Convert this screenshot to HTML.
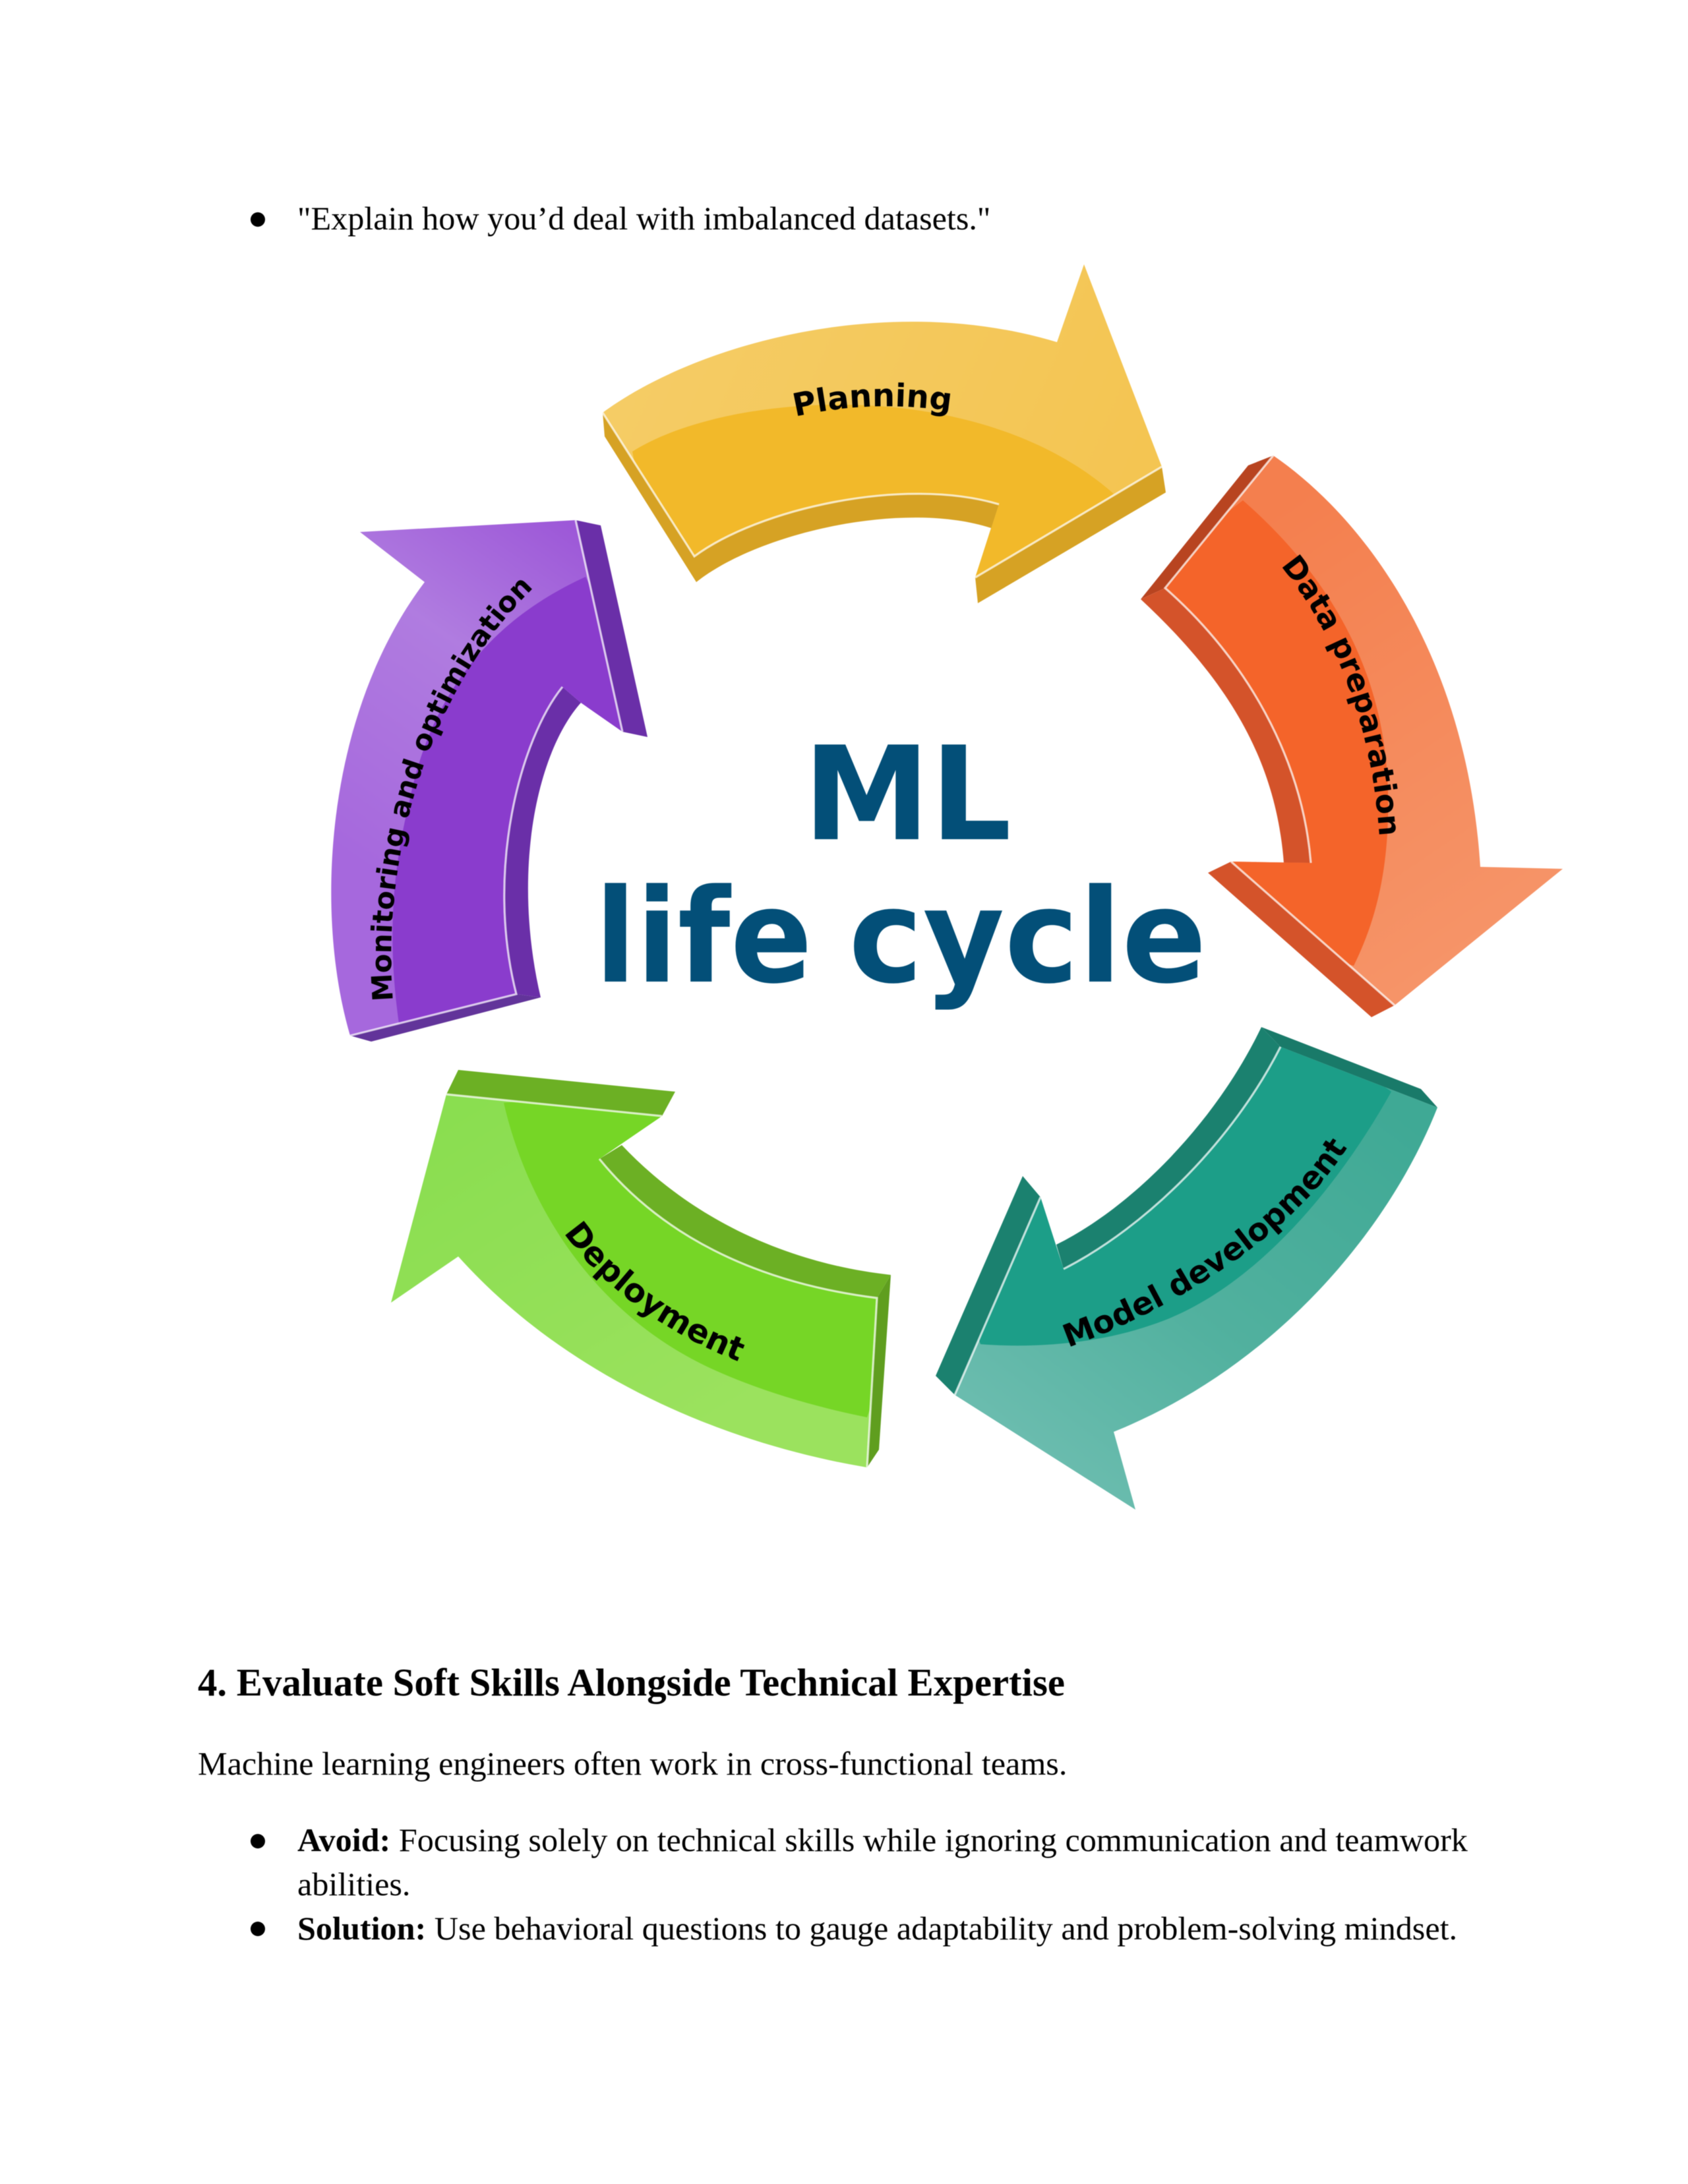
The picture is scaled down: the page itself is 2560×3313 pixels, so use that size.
<!DOCTYPE html>
<html lang="en">
<head>
<meta charset="utf-8">
<title>ML life cycle</title>
<style>
html,body{margin:0;padding:0;background:#fff;width:2560px;height:3313px;overflow:hidden}
svg{display:block;position:absolute;left:0;top:0;filter:blur(.6px)}
.t{font-family:"Liberation Serif",serif;font-size:50.2px;fill:#000}
.h{font-family:"Liberation Serif",serif;font-size:58.8px;font-weight:700;fill:#000}
.b{font-weight:700}
.l{font-family:"DejaVu Sans",sans-serif;font-weight:700;font-size:48px;fill:#000}
.c{font-family:"DejaVu Sans",sans-serif;font-weight:700;font-size:197px;fill:#034f78}
.e{fill:none;stroke:#fff;stroke-opacity:.72;stroke-width:3.2}
</style>
</head>
<body>
<svg xmlns="http://www.w3.org/2000/svg" width="2560" height="3313" viewBox="0 0 2560 3313">
<defs>
<linearGradient id="gy" gradientUnits="userSpaceOnUse" x1="1000" y1="500" x2="1700" y2="800"><stop offset="0" stop-color="#f5cc65"/><stop offset="1" stop-color="#f4c552"/></linearGradient>
<linearGradient id="go" gradientUnits="userSpaceOnUse" x1="1950" y1="750" x2="2350" y2="1350"><stop offset="0" stop-color="#f47f4e"/><stop offset="1" stop-color="#f69468"/></linearGradient>
<linearGradient id="gt" gradientUnits="userSpaceOnUse" x1="2150" y1="1700" x2="1700" y2="2290"><stop offset="0" stop-color="#3fa995"/><stop offset=".6" stop-color="#52b19f"/><stop offset="1" stop-color="#6abcae"/></linearGradient>
<linearGradient id="gg" gradientUnits="userSpaceOnUse" x1="680" y1="1680" x2="1000" y2="2200"><stop offset="0" stop-color="#8ade50"/><stop offset="1" stop-color="#9be25e"/></linearGradient>
<linearGradient id="gp" gradientUnits="userSpaceOnUse" x1="520" y1="1300" x2="870" y2="800"><stop offset="0" stop-color="#a668dd"/><stop offset=".6" stop-color="#b07ce0"/><stop offset="1" stop-color="#9d58d8"/></linearGradient>
<clipPath id="cy"><path d="M914 626C1050 525 1340 440 1603 519L1644 401L1762 708L1479 876L1515 765C1370 722 1150 772 1053 844Z"/></clipPath>
<clipPath id="co"><path d="M1931 691C2075 790 2225 1000 2245 1315L2370 1318L2115 1525L1867 1307L1988 1309C1975 1150 1890 1000 1767 892Z"/></clipPath>
<clipPath id="ct"><path d="M1942 1588L2180 1680C2105 1870 1930 2075 1689 2172L1722 2290L1448 2116L1578 1816L1613 1925C1740 1860 1870 1730 1942 1588Z"/></clipPath>
<clipPath id="cg"><path d="M677 1660L1004 1693L909 1758C1000 1870 1140 1945 1330 1969L1315 2226C1100 2190 860 2090 695 1906L593 1976Z"/></clipPath>
<clipPath id="cp"><path d="M546 807L873 789L944 1110L881 1066L853 1042C790 1120 735 1320 783 1508L531 1571C475 1380 495 1080 644 883Z"/></clipPath>
<path id="pa" d="M1206 632Q1326 604 1456 626"/>
<path id="pb" d="M1942 858C1997 926 2078 1056 2092 1270"/>
<path id="pc" d="M1620 2044C1770 1990 1960 1880 2050 1730"/>
<path id="pd" d="M855 1870C903 1940 1003 2024 1138 2072"/>
<path id="pe" d="M596 1518C578 1302 648 1044 815 886"/>
</defs>

<circle cx="391" cy="333" r="11"/>
<text class="t" x="451" y="348">"Explain how you’d deal with imbalanced datasets."</text>

<!-- Yellow: Planning -->
<path fill="#d6a224" d="M914 626L917 662L1056 883C1150 808 1370 758 1503 801L1479 876L1483 915L1768 747L1762 708L1500 600L1000 620Z"/>
<path fill="url(#gy)" d="M914 626C1050 525 1340 440 1603 519L1644 401L1762 708L1479 876L1515 765C1370 722 1150 772 1053 844Z"/>
<g clip-path="url(#cy)"><path fill="#f2b92a" d="M959 685C1100 595 1480 565 1689 749L1479 900L1000 900Z"/></g>
<path class="e" d="M914 626L1053 844C1150 772 1370 722 1515 765M1479 876L1762 708"/>
<text class="l"><textPath href="#pa">Planning</textPath></text>

<!-- Orange: Data preparation -->
<path fill="#b84420" d="M1931 691L1893 706L1730 909L1767 892Z"/>
<path fill="#d4532a" d="M1730 909L1767 892C1890 1000 1975 1150 1988 1309L1947 1309C1935 1150 1860 1030 1730 909ZM1832 1324L1867 1307L2115 1525L2080 1543Z"/>
<path fill="url(#go)" d="M1931 691C2075 790 2225 1000 2245 1315L2370 1318L2115 1525L1867 1307L1988 1309C1975 1150 1890 1000 1767 892Z"/>
<g clip-path="url(#co)"><path fill="#f4642a" d="M1885 759C2000 860 2100 1000 2105 1200C2108 1320 2085 1400 2053 1465L1800 1400L1700 900Z"/></g>
<path class="e" d="M1931 691L1767 892C1890 1000 1975 1150 1988 1309M1867 1307L2115 1525"/>
<text class="l" style="font-size:46px"><textPath href="#pb">Data preparation</textPath></text>

<!-- Teal: Model development -->
<path fill="#197a69" d="M1913 1558L2155 1652L2180 1680L1942 1588Z"/>
<path fill="#1b816f" d="M1913 1558L1942 1588C1870 1730 1740 1860 1613 1925L1602 1888C1710 1835 1840 1710 1913 1558ZM1551 1784L1578 1816L1448 2116L1419 2087Z"/>
<path fill="url(#gt)" d="M1942 1588L2180 1680C2105 1870 1930 2075 1689 2172L1722 2290L1448 2116L1578 1816L1613 1925C1740 1860 1870 1730 1942 1588Z"/>
<g clip-path="url(#ct)"><path fill="#1c9e88" d="M2110 1656C2030 1800 1900 1960 1746 2010C1660 2040 1560 2045 1487 2039L1400 1800L1900 1500Z"/></g>
<path class="e" d="M1942 1588C1870 1730 1740 1860 1613 1925M1578 1816L1448 2116"/>
<text class="l" style="font-size:47.5px"><textPath href="#pc">Model development</textPath></text>

<!-- Green: Deployment -->
<path fill="#6cb024" d="M677 1660L695 1623L1024 1656L1004 1693ZM943 1737C1040 1840 1180 1915 1351 1934L1330 1969C1140 1945 1000 1870 909 1758Z"/>
<path fill="#5f9e1f" d="M1351 1934L1333 2199L1315 2226L1330 1969Z"/>
<path fill="url(#gg)" d="M677 1660L1004 1693L909 1758C1000 1870 1140 1945 1330 1969L1315 2226C1100 2190 860 2090 695 1906L593 1976Z"/>
<g clip-path="url(#cg)"><path fill="#76d626" d="M764 1673C800 1830 900 1990 1070 2072C1150 2110 1240 2135 1315 2150L1400 1900L1000 1650Z"/></g>
<path class="e" d="M677 1660L1004 1693M909 1758C1000 1870 1140 1945 1330 1969L1315 2226"/>
<text class="l" style="font-size:49px"><textPath href="#pd">Deployment</textPath></text>

<!-- Purple: Monitoring and optimization -->
<path fill="#6a2fa8" d="M873 789L911 797L982 1118L944 1110ZM853 1042L881 1066C815 1140 775 1320 820 1513L783 1508C735 1320 790 1120 853 1042Z"/>
<path fill="#62349a" d="M531 1571L563 1580L820 1513L783 1508Z"/>
<path fill="url(#gp)" d="M546 807L873 789L944 1110L881 1066L853 1042C790 1120 735 1320 783 1508L531 1571C475 1380 495 1080 644 883Z"/>
<g clip-path="url(#cp)"><path fill="#8a3ccd" d="M888 875C790 920 660 1010 620 1220C590 1340 590 1450 606 1560L800 1600L1000 1100Z"/></g>
<path class="e" d="M873 789L944 1110M853 1042C790 1120 735 1320 783 1508L531 1571"/>
<text class="l" style="font-size:42.5px"><textPath href="#pe">Monitoring and optimization</textPath></text>

<!-- Centre title -->
<text class="c" x="1218" y="1273" textLength="316" lengthAdjust="spacingAndGlyphs">ML</text>
<text class="c" x="902" y="1489" textLength="330" lengthAdjust="spacingAndGlyphs">life</text>
<text class="c" x="1287" y="1489" textLength="543" lengthAdjust="spacingAndGlyphs">cycle</text>

<!-- Lower text -->
<text class="h" x="300" y="2572">4. Evaluate Soft Skills Alongside Technical Expertise</text>
<text class="t" x="300" y="2692">Machine learning engineers often work in cross-functional teams.</text>
<circle cx="391" cy="2793" r="11"/>
<text class="t" x="451" y="2808"><tspan class="b">Avoid:</tspan> Focusing solely on technical skills while ignoring communication and teamwork</text>
<text class="t" x="451" y="2875">abilities.</text>
<circle cx="391" cy="2926" r="11"/>
<text class="t" x="451" y="2942"><tspan class="b">Solution:</tspan> Use behavioral questions to gauge adaptability and problem-solving mindset.</text>
</svg>
</body>
</html>
